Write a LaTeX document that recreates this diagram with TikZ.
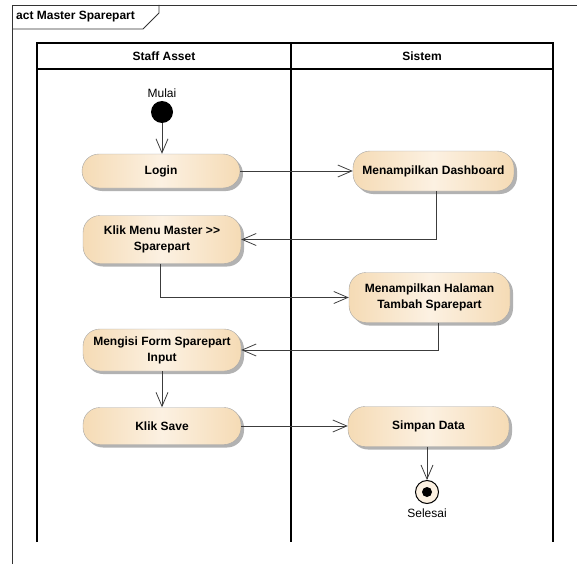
\documentclass[tikz,border=0pt]{standalone}
\usepackage{fontspec}
\setmainfont{Liberation Sans}
\usetikzlibrary{arrows.meta,shadows,positioning}
\tikzset{>={Straight Barb[width=12pt,length=14pt]}}
\definecolor{actfill}{HTML}{F5DBB5}
\definecolor{actlight}{HTML}{FCF1E2}
\definecolor{actline}{HTML}{A6A6A6}
\definecolor{flowline}{HTML}{3C3C3C}

\begin{document}
\begin{tikzpicture}[x=1pt,y=-1pt]
        \tikzstyle{anode} = [draw=actline, rounded corners=17pt, left color=actfill, right color=actfill, middle color=actlight, drop shadow={shadow xshift=3pt, shadow yshift=-3pt, fill=black!30, opacity=1}, inner sep=2pt, align=center, font=\bfseries\fontsize{12}{16}\selectfont]
        \tikzstyle{lnode} = [inner sep=1pt, font=\fontsize{12}{14}\selectfont]
        \tikzstyle{hnode} = [inner sep=1pt, font=\bfseries\fontsize{12}{14}\selectfont]
        \tikzstyle{flow} = [->, draw=flowline, line width=0.8pt]
        \tikzstyle{lane} = [draw=black, line width=1.3pt]

        \useasboundingbox (0,0) rectangle (577,564);

        \draw[line width=0.8pt, draw=black!80] (12,564) -- (12,5) -- (577,5);
        \draw[line width=0.8pt, draw=black!80] (12,29) -- (143,29) -- (159,13) -- (159,5);
        \node[hnode, anchor=west] (judul) at (15,17) {act Master Sparepart};

        \draw[lane] (37,542) -- (37,43) -- (553,43) -- (553,542);
        \draw[lane] (37,69) -- (553,69);
        \draw[lane] (291,43) -- (291,542);
        \node[hnode] (staff) at (164,56) {Staff Asset};
        \node[hnode] (sistem) at (422,56) {Sistem};

        \node[circle, fill=black, minimum size=22pt, inner sep=0pt] (mulai) at (162,112) {};
        \node[lnode] (lblmulai) at (162,93) {Mulai};

        \node[anode, minimum width=158pt, minimum height=34pt] (login) at (161,171) {Login};
        \node[anode, minimum width=158pt, minimum height=48pt] (menu) at (162,239.5) {Klik Menu Master \mbox{>}\mbox{>}\\Sparepart};
        \node[anode, minimum width=158pt, minimum height=42pt] (isi) at (162,350) {Mengisi Form Sparepart\\Input};
        \node[anode, minimum width=158pt, minimum height=37pt] (save) at (162,426) {Klik Save};

        \node[anode, minimum width=161pt, minimum height=40pt] (dash) at (433.5,171) {Menampilkan Dashboard};
        \node[anode, minimum width=161pt, minimum height=50pt] (hal) at (429.5,297.5) {Menampilkan Halaman\\Tambah Sparepart};
        \node[anode, minimum width=161pt, minimum height=40pt] (simpan) at (428.5,426.5) {Simpan Data};

        \node[circle, draw=black, line width=1pt, fill=actlight, minimum size=23pt, inner sep=0pt, path picture={\fill[black] (path picture bounding box.center) circle (5pt);}] (selesai) at (427,492) {};
        \node[lnode] (lblselesai) at (427,513) {Selesai};

        \draw[flow] (mulai) -- (mulai |- login.north);
        \draw[flow] (login) -- (dash);
        \draw[flow] ([xshift=2.5pt]dash.south) |- (menu.east);
        \draw[flow] ([xshift=-2pt]menu.south) |- (hal.west);
        \draw[flow] ([xshift=8.5pt]hal.south) |- (isi.east);
        \draw[flow] (isi) -- (save);
        \draw[flow] (save) -- (save -| simpan.west);
        \draw[flow] (simpan.south -| selesai) -- (selesai);
      \end{tikzpicture}
\end{document}
